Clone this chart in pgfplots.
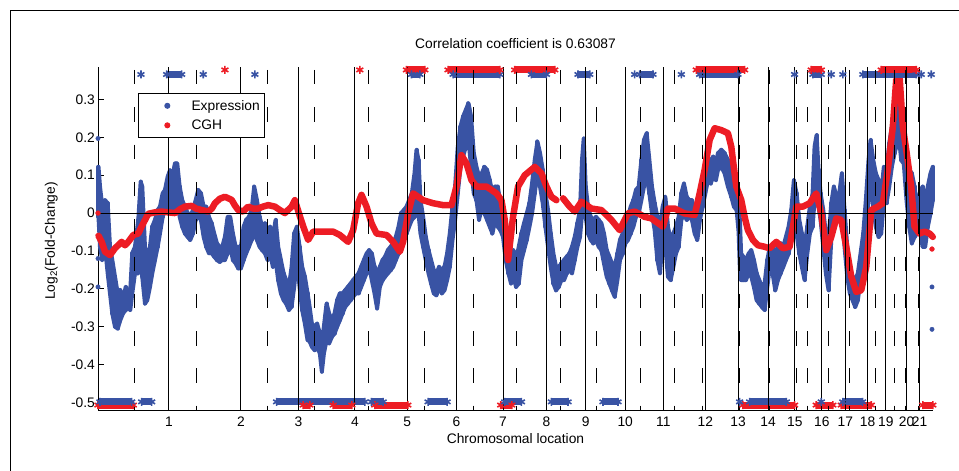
\documentclass[border=0pt]{standalone}
\usepackage{fontspec}
\setmainfont{Liberation Sans}
\usepackage{pgfplots}
\pgfplotsset{compat=1.18}
\usepackage{pgfplotstable}

\definecolor{expblue}{RGB}{57,83,164}
\definecolor{cghred}{RGB}{237,28,36}

% Expression: position, upper and lower extent of the dot cloud
\pgfplotstableread{
x hi lo
0.5 0.122 -0.010
2 0.070 -0.089
4.3 0.017 -0.124
7 0.034 -0.089
9.7 0.026 -0.159
12 -0.089 -0.212
14.3 -0.124 -0.265
17 -0.168 -0.300
19.7 -0.212 -0.305
22.3 -0.203 -0.283
25 -0.230 -0.265
27.7 -0.195 -0.256
30.3 -0.212 -0.247
32.3 -0.203 -0.256
34.3 -0.106 -0.212
37 -0.089 -0.159
40.3 -0.018 -0.159
42.7 0.083 -0.089
44.3 0.070 -0.168
47 -0.089 -0.239
49.3 -0.124 -0.230
52 -0.089 -0.195
54.3 -0.036 -0.159
57 -0.018 -0.124
59.7 0.008 -0.089
62 0.017 -0.054
64.7 0.052 -0.010
67 0.061 0.008
69.7 0.096 0.017
72 0.113 0.026
74.3 0.096 0
77 0.131 0.017
79.3 0.131 0.034
81.7 0.070 -0.010
84.3 0.034 -0.036
87 0.017 -0.054
89.7 0 -0.063
92.3 -0.010 -0.071
95 0.008 -0.054
97.7 0.034 -0.018
100.3 0.061 -0.010
103 0.052 -0.018
105.7 0.017 -0.063
108.3 0.017 -0.089
111 -0.010 -0.106
113.7 -0.027 -0.106
116.3 -0.054 -0.115
119 -0.080 -0.124
121.7 -0.089 -0.129
124.3 -0.089 -0.124
127 -0.063 -0.124
129.7 -0.010 -0.106
132.3 -0.010 -0.089
135 -0.054 -0.124
137.7 -0.089 -0.133
140.3 -0.089 -0.146
143 -0.089 -0.146
145.7 -0.036 -0.124
148.3 -0.018 -0.106
151 -0.010 -0.089
153.7 0.008 -0.071
156.3 0.070 -0.054
159 0.034 -0.071
161.7 -0.010 -0.089
164.3 -0.036 -0.098
167 -0.027 -0.106
169.7 -0.054 -0.124
172.3 -0.036 -0.106
175 -0.063 -0.142
177.7 -0.018 -0.124
180.3 -0.089 -0.177
183 -0.124 -0.212
185.7 -0.159 -0.230
188.3 -0.177 -0.239
191 -0.195 -0.256
193.7 -0.142 -0.247
196.3 -0.054 -0.195
199 -0.036 -0.124
201.7 -0.089 -0.195
204.3 -0.142 -0.256
207 -0.168 -0.292
209.7 -0.212 -0.336
211.3 -0.239 -0.336
214 -0.292 -0.353
216.7 -0.300 -0.362
219.3 -0.292 -0.353
222 -0.318 -0.371
224 -0.344 -0.419
226 -0.300 -0.371
228.7 -0.239 -0.336
231.3 -0.265 -0.344
234 -0.283 -0.327
236.7 -0.265 -0.318
239.3 -0.230 -0.300
242 -0.212 -0.283
244.7 -0.212 -0.265
247.3 -0.204 -0.248
250 -0.195 -0.239
252.7 -0.186 -0.230
255.3 -0.177 -0.221
258 -0.168 -0.212
260.7 -0.159 -0.212
263.3 -0.142 -0.195
266 -0.124 -0.177
268.7 -0.107 -0.159
271.3 -0.098 -0.142
274 -0.107 -0.177
276.7 -0.142 -0.212
279.3 -0.159 -0.252
282 -0.142 -0.195
284.7 -0.124 -0.177
287.3 -0.115 -0.168
290 -0.098 -0.159
292.7 -0.089 -0.151
295.3 -0.080 -0.142
298 -0.063 -0.124
300.7 -0.036 -0.107
303.3 0 -0.080
306 0.008 -0.071
308.7 0.017 -0.054
311.3 0.034 -0.036
314 0.052 -0.018
316.7 0.105 -0.010
318.7 0.167 0.034
320.7 0.140 -0.001
322.7 0.034 -0.054
325.3 -0.010 -0.089
328 -0.063 -0.124
330.7 -0.098 -0.159
333.3 -0.124 -0.186
336 -0.151 -0.212
338.7 -0.159 -0.217
341.3 -0.142 -0.195
344 -0.151 -0.212
346.7 -0.142 -0.204
349.3 -0.107 -0.177
352 -0.054 -0.142
354.7 0.017 -0.071
357.3 0.070 -0.018
360 0.175 0.052
362.7 0.228 0.122
365.3 0.255 0.149
368 0.272 0.175
370.7 0.290 0.193
373.3 0.255 0.122
376 0.158 0.052
378.7 0.122 0.034
381.3 0.096 -0.018
384 0.105 0.017
386.7 0.122 -0.001
389.3 0.114 -0.018
392 0.087 -0.036
394.7 0.052 -0.054
397.3 0.070 -0.018
400 0.070 -0.036
402.7 0.026 -0.045
405.3 -0.001 -0.063
408 -0.054 -0.124
410.7 -0.098 -0.159
413.3 -0.107 -0.186
415.7 -0.098 -0.168
418.3 -0.124 -0.195
421 -0.089 -0.186
423.7 -0.054 -0.124
426.3 -0.027 -0.098
429 -0.001 -0.071
431.7 0.026 -0.036
434.3 0.078 -0.001
437 0.140 0.052
439.7 0.189 0.105
442.3 0.158 0.070
445 0.114 0.026
447.7 0.052 -0.036
450.3 0.008 -0.089
453 -0.054 -0.142
455.7 -0.107 -0.186
458.3 -0.142 -0.204
461 -0.142 -0.195
463.7 -0.133 -0.177
466.3 -0.124 -0.177
469 -0.115 -0.159
471.7 -0.107 -0.151
474.3 -0.089 -0.159
477 -0.063 -0.124
479.7 -0.027 -0.089
482.3 0.008 -0.063
484.3 0.140 -0.001
486 0.197 0.052
488 0.070 -0.010
490.3 0.017 -0.054
493 -0.010 -0.071
495.7 -0.018 -0.080
498.3 -0.010 -0.071
501 -0.018 -0.089
503.7 -0.027 -0.098
506.3 -0.054 -0.133
509 -0.098 -0.168
511.7 -0.115 -0.186
514.3 -0.133 -0.204
517 -0.142 -0.221
519.7 -0.107 -0.177
522.3 -0.071 -0.124
525 -0.054 -0.107
527.7 -0.036 -0.080
530.3 -0.010 -0.071
533 0.017 -0.054
535.7 0.034 -0.036
538.3 0.061 -0.010
541 0.070 -0.001
543.7 0.140 0.034
546.3 0.193 0.070
549 0.211 0.096
551.7 0.140 0.052
554.3 0.070 -0.001
557 0.026 -0.045
559.7 -0.010 -0.124
562.3 -0.036 -0.159
565 0.017 -0.071
567.7 0.043 -0.089
570.3 -0.036 -0.168
573 -0.071 -0.177
575.7 -0.054 -0.142
578.3 -0.036 -0.107
581 -0.010 -0.089
583.7 0.052 -0.018
586.3 0.078 -0.001
589 0.043 -0.018
591.7 0.034 -0.010
594.3 0.034 -0.018
597 -0.001 -0.054
599.7 -0.018 -0.071
602.3 0.034 -0.018
605 0.096 0.017
607.7 0.122 0.052
610.3 0.140 0.087
613 0.140 0.078
615.7 0.149 0.096
618.3 0.131 0.087
620.3 0.158 0.114
623.7 0.167 0.122
627 0.158 0.105
630.3 0.140 0.070
633.7 0.105 0.043
636.3 0.087 0.017
639 0.061 0.008
641 0.034 -0.050
642.3 -0.020 -0.150
643.5 -0.107 -0.177
645.7 -0.115 -0.177
648.3 -0.124 -0.177
651 -0.107 -0.159
653.7 -0.098 -0.168
656.3 -0.124 -0.195
659 -0.159 -0.230
661.7 -0.177 -0.239
664.3 -0.195 -0.248
667 -0.186 -0.256
669.7 -0.124 -0.195
672.3 -0.089 -0.142
675 -0.089 -0.159
677.7 -0.107 -0.204
680.3 -0.089 -0.177
683 -0.080 -0.159
685.7 -0.089 -0.142
688.3 -0.063 -0.124
691 -0.036 -0.107
693.7 0.008 -0.071
696.3 0.087 -0.018
699 0.052 -0.054
701.7 -0.018 -0.107
704.3 -0.054 -0.142
707 -0.089 -0.177
709.7 -0.036 -0.107
712.3 0.017 -0.054
715 0.052 -0.036
717 0.175 0.034
719 0.206 0.070
721 0.114 0.017
723 0.052 -0.018
725.7 0.008 -0.089
728.3 -0.054 -0.159
731 -0.071 -0.204
733.7 0.026 -0.071
736.3 0.070 -0.010
739 0.043 -0.018
741.7 0.052 -0.001
744.3 0.105 -0.010
747 0.008 -0.089
749.7 -0.089 -0.168
752.3 -0.142 -0.212
755 -0.168 -0.230
757.7 -0.177 -0.248
760.3 -0.159 -0.230
763 -0.107 -0.177
765.7 -0.054 -0.124
768.3 0.034 -0.054
771 0.140 0.034
773 0.193 0.087
775.7 0.140 0.017
778.3 0.105 -0.036
781 0.087 -0.063
783.7 0.052 -0.054
786.3 0.122 0.034
789 0.114 0.026
791.7 0.184 0.070
794.3 0.228 0.122
797 0.255 0.158
799.7 0.290 0.184
801.7 0.290 0.193
803.7 0.228 0.140
806.3 0.193 0.130
809 0.175 0.034
811.7 0.114 -0.036
814.3 0.105 -0.080
817 0.070 -0.063
819.7 0.017 -0.054
822.3 0.052 -0.036
825 0.070 -0.089
827.7 0.034 -0.089
830.3 0.070 -0.036
833 0.105 -0.001
835.3 0.122 0.034
}\exprtab

\begin{document}
\begin{tikzpicture}[font=\fontsize{13.8bp}{16bp}\selectfont]
\path[use as bounding box] (0,0) rectangle (959bp,471bp);
\draw[line width=1bp] (10bp,0) -- (10bp,460bp) -- (959bp,460bp);
\begin{axis}[
  at={(98bp,61bp)}, anchor=south west,
  scale only axis, width=835bp, height=343.3bp,
  xmin=0, xmax=835.5, ymin=-0.52, ymax=0.3865,
  clip=false,
  axis x line*=bottom, axis y line*=left,
  axis line style={line width=1bp, black},
  tick align=inside, major tick length=6bp,
  tick style={black, line width=1bp},
  xtick={71,143,200.5,257,309.3,358.7,405.3,448.7,488,527.5,565.7,607.7,640.5,670.5,697.3,724.3,747.7,770,788.3,809,822},
  xticklabels={1,2,3,4,5,6,7,8,9,10,11,12,13,14,15,16,17,18,19,20,21},
  ytick={-0.5,-0.4,-0.3,-0.2,-0.1,0,0.1,0.2,0.3},
  yticklabels={-0.5,-0.4,-0.3,-0.2,-0.1,0,0.1,0.2,0.3},
  xticklabel style={anchor=base, yshift=-16.7bp},
  yticklabel style={inner xsep=3bp},
  title={Correlation coefficient is 0.63087},
  title style={at={(0.5,1)}, anchor=base, yshift=12bp},
  xlabel={Chromosomal location},
  xlabel style={at={(axis description cs:0.5,0)}, anchor=base, yshift=-33.3bp},
  ylabel={Log\textsubscript{2}(Fold-Change)},
  ylabel style={at={(axis description cs:-0.0515,0.4923)}, anchor=base},
  legend image code/.code={\path (0bp,-3bp) (46.7bp,3bp); \draw[#1, draw=none] plot coordinates {(25bp,0bp)};},
  legend style={at={(0.0483,0.9225)}, anchor=north west, draw=black, line width=1bp, fill=white,
    inner xsep=3bp, inner ysep=4.25bp, row sep=4.2bp,
    nodes={inner sep=2bp, text depth=0.15em},
    font=\fontsize{13.8bp}{16bp}\selectfont},
  legend cell align=left,
]
\addlegendimage{only marks, mark=*, expblue, mark size=2.5bp, mark options={fill=expblue, draw=expblue}}
\addlegendentry{Expression}
\addlegendimage{only marks, mark=*, cghred, mark size=2.5bp, mark options={fill=cghred, draw=cghred}}
\addlegendentry{CGH}

% Expression cloud
\addplot[expblue, line width=4bp, line cap=round, line join=round, forget plot,
  error bars/.cd, y dir=minus, y explicit, error mark=none,
  error bar style={line width=4bp, line cap=round, expblue}]
  table[x=x, y=hi, y error minus expr={\thisrow{hi}-\thisrow{lo}}] {\exprtab};
\addplot[expblue, line width=4bp, line cap=round, line join=round, forget plot]
  table[x=x, y=lo] {\exprtab};
\addplot[only marks, mark=*, expblue, mark size=2.2bp, forget plot]
  coordinates {(0,0.197) (0,-0.12) (0,-0.195) (834.5,-0.195) (834.5,-0.307)};

% CGH
\addplot[cghred, line width=6.5bp, line cap=round, line join=round, unbounded coords=jump, forget plot]
coordinates {
(0.5,-0.060) (3.7,-0.076) (7,-0.102) (12,-0.111) (17,-0.093) (23.7,-0.076) (27,-0.085)
(30.3,-0.076) (35.3,-0.058) (40.3,-0.054) (45.3,-0.027) (50.3,-0.002) (57,0.002)
(63.7,0.004) (70,0.002) (77,0.0) (82,0.010) (87,0.017) (93.7,0.019) (98,0.012)
(103.7,0.008) (110.3,0.004) (114,0.012) (117,0.026) (122,0.038) (127,0.043)
(133.7,0.035) (137,0.020) (140.3,0.008) (145.3,0.004) (150.3,0.017) (155,0.012)
(160.3,0.012) (165,0.017) (170.3,0.021) (177,0.017) (182,0.008) (187,0.0)
(193.7,0.017) (197,0.034) (201,0.0) (205.3,-0.035) (210.3,-0.071) (215.3,-0.049)
(222,-0.049) (235.3,-0.049) (242,-0.058) (250.3,-0.076) (255.3,-0.045) (260.3,0.026)
(263.7,0.048) (268.7,0.017) (273.7,-0.027) (278.7,-0.054) (288.7,-0.058)
(295.3,-0.076) (302,-0.102) (305.3,-0.076) (310.3,-0.001) (315.3,0.052)
(325.3,0.034) (335.3,0.026) (345.3,0.021) (353.7,0.021) (358.7,0.070)
(363.7,0.153) (368.7,0.131) (373.7,0.087) (378.7,0.070) (388.7,0.070)
(398.7,0.052) (403.7,0.034) (407,-0.018) (410.3,-0.124) (415.3,-0.010)
(420.3,0.070) (427,0.100) (437,0.122) (443.7,0.105) (448.7,0.070) (453.7,0.043)
(458.7,0.034) (460,nan)
(465.3,0.039) (472,0.017) (477,0.004) (483.7,0.030) (493.7,0.012) (503.7,0.008)
(513.7,-0.018) (522,-0.045) (530.3,-0.001) (537,0.004) (547,-0.010) (553.7,-0.014)
(565.3,-0.036) (570.3,0.012) (577,0.012) (587,-0.001) (597,-0.005) (602,0.052)
(607,0.114) (612,0.193) (617,0.224) (623.7,0.219) (630.3,0.211) (633.7,0.175)
(635.3,0.140) (638.7,0.070) (643.7,0.034) (647,-0.010) (650.3,-0.045)
(655.3,-0.071) (660.3,-0.085) (667,-0.089) (672,-0.093) (678.7,-0.076)
(685.3,-0.093) (692,-0.089) (698.7,0.017) (705.3,0.017) (712,0.026) (718.7,0.052)
(723.7,-0.001) (728.7,-0.098) (733.7,-0.063) (738.7,-0.014) (743.7,-0.018)
(748.7,-0.089) (753.7,-0.168) (758.7,-0.208) (763.7,-0.204) (768.7,-0.142)
(773.7,0.008) (780.3,0.017) (785.3,0.026) (790.3,0.114) (795.3,0.228)
(798.7,0.352) (802,0.362) (805.3,0.228) (808.7,0.167) (813.7,0.070) (817,-0.036)
(822,-0.054) (827,-0.049) (832,-0.054) (835.3,-0.063)
};
\addplot[only marks, mark=*, cghred, mark size=2.4bp, forget plot]
  coordinates {(0,0) (834.5,-0.095)};

% significance markers: bottom (CGH then expression), top (expression then CGH)
\pgfplotsset{starrow/.style={line width=7bp, line cap=butt, mark=asterisk, mark size=4bp,
  mark options={line width=1.6bp, solid}, unbounded coords=jump, forget plot}}
\addplot[cghred, starrow] coordinates {
(0,-0.507) (35.3,-0.507) (36,nan)
(205.3,-0.507) (212,-0.507) (213,nan)
(235.3,-0.507) (254,-0.507) (255,nan)
(277,-0.507) (310,-0.507) (311,nan)
(403,-0.507) (414,-0.507) (415,nan)
(645.3,-0.507) (697,-0.507) (698,nan)
(718.7,-0.507) (735.3,-0.507) (736,nan)
(743.7,-0.507) (773.7,-0.507) (774,nan)
(825.3,-0.507) (835.3,-0.507)
};
\addplot[expblue, starrow] coordinates {
(2,-0.4985) (33.7,-0.4985) (34,nan)
(43.7,-0.4985) (53.7,-0.4985) (54,nan)
(178.7,-0.4985) (267,-0.4985) (268,nan)
(273.7,-0.4985) (285.3,-0.4985) (286,nan)
(330.3,-0.4985) (349.3,-0.4985) (350,nan)
(407,-0.4985) (423.7,-0.4985) (424,nan)
(453.7,-0.4985) (470.3,-0.4985) (471,nan)
(505.3,-0.4985) (520.3,-0.4985) (521,nan)
(642,-0.4985) (642.5,nan)
(652,-0.4985) (688.7,-0.4985) (689,nan)
(723.7,-0.4985) (724,nan)
(745.3,-0.4985) (765,-0.4985)
};
\addplot[expblue, starrow] coordinates {
(43,0.366) (43.5,nan)
(68.7,0.366) (83.7,0.366) (84,nan)
(105.3,0.366) (105.5,nan)
(157,0.366) (157.5,nan)
(313.7,0.366) (322,0.366) (323,nan)
(355.3,0.366) (402,0.366) (403,nan)
(433.7,0.366) (448.7,0.366) (449,nan)
(480.3,0.366) (492,0.366) (493,nan)
(537,0.366) (537.5,nan)
(542,0.366) (555.3,0.366) (556,nan)
(583.7,0.366) (584,nan)
(602,0.366) (640.3,0.366) (641,nan)
(697,0.366) (697.5,nan)
(715.3,0.366) (723.7,0.366) (724,nan)
(733.7,0.366) (734,nan)
(745.3,0.366) (745.5,nan)
(765.3,0.366) (818.7,0.366) (819,nan)
(823.7,0.366) (824,nan)
(833.7,0.366)
};
\addplot[cghred, starrow] coordinates {
(127,0.378) (127.5,nan)
(262,0.378) (262.5,nan)
(308.7,0.378) (327,0.378) (328,nan)
(350.3,0.378) (402,0.378) (403,nan)
(417,0.378) (457,0.378) (458,nan)
(598.7,0.378) (647,0.378) (648,nan)
(713.7,0.378) (723.7,0.378) (724,nan)
(783.7,0.378) (818.7,0.378)
};

% chromosome boundaries (solid) and centromeres (dashed), zero line
\addplot[black, line width=1bp, line cap=butt, unbounded coords=jump, forget plot] coordinates {
(71,-0.52) (71,0.3865) (71,nan)
(143,-0.52) (143,0.3865) (143,nan)
(200.5,-0.52) (200.5,0.3865) (200.5,nan)
(257,-0.52) (257,0.3865) (257,nan)
(309.3,-0.52) (309.3,0.3865) (309.3,nan)
(358.7,-0.52) (358.7,0.3865) (358.7,nan)
(405.3,-0.52) (405.3,0.3865) (405.3,nan)
(448.7,-0.52) (448.7,0.3865) (448.7,nan)
(488,-0.52) (488,0.3865) (488,nan)
(527.5,-0.52) (527.5,0.3865) (527.5,nan)
(565.7,-0.52) (565.7,0.3865) (565.7,nan)
(607.7,-0.52) (607.7,0.3865) (607.7,nan)
(640.5,-0.52) (640.5,0.3865) (640.5,nan)
(670.5,-0.52) (670.5,0.3865) (670.5,nan)
(697.3,-0.52) (697.3,0.3865) (697.3,nan)
(724.3,-0.52) (724.3,0.3865) (724.3,nan)
(747.7,-0.52) (747.7,0.3865) (747.7,nan)
(770,-0.52) (770,0.3865) (770,nan)
(788.3,-0.52) (788.3,0.3865) (788.3,nan)
(809,-0.52) (809,0.3865) (809,nan)
(822,-0.52) (822,0.3865)
};
\addplot[black, line width=1bp, line cap=butt, dash pattern=on 14.5bp off 22.8bp, dash phase=34bp,
  unbounded coords=jump, forget plot] coordinates {
(36.3,0.3865) (36.3,-0.52) (36.3,nan)
(98.7,0.3865) (98.7,-0.52) (98.7,nan)
(169.7,0.3865) (169.7,-0.52) (169.7,nan)
(216.3,0.3865) (216.3,-0.52) (216.3,nan)
(270.3,0.3865) (270.3,-0.52) (270.3,nan)
(327,0.3865) (327,-0.52) (327,nan)
(375.7,0.3865) (375.7,-0.52) (375.7,nan)
(418.7,0.3865) (418.7,-0.52) (418.7,nan)
(462.7,0.3865) (462.7,-0.52) (462.7,nan)
(498.7,0.3865) (498.7,-0.52) (498.7,nan)
(542.5,0.3865) (542.5,-0.52) (542.5,nan)
(577,0.3865) (577,-0.52) (577,nan)
(605.3,0.3865) (605.3,-0.52) (605.3,nan)
(642,0.3865) (642,-0.52) (642,nan)
(672,0.3865) (672,-0.52) (672,nan)
(699,0.3865) (699,-0.52) (699,nan)
(709.7,0.3865) (709.7,-0.52) (709.7,nan)
(730.5,0.3865) (730.5,-0.52) (730.5,nan)
(752.3,0.3865) (752.3,-0.52) (752.3,nan)
(777.8,0.3865) (777.8,-0.52) (777.8,nan)
(796.5,0.3865) (796.5,-0.52) (796.5,nan)
(807.7,0.3865) (807.7,-0.52) (807.7,nan)
(820.5,0.3865) (820.5,-0.52)
};
\addplot[black, line width=1bp, forget plot] coordinates {(0,0) (835.5,0)};
\end{axis}
\end{tikzpicture}
\end{document}
